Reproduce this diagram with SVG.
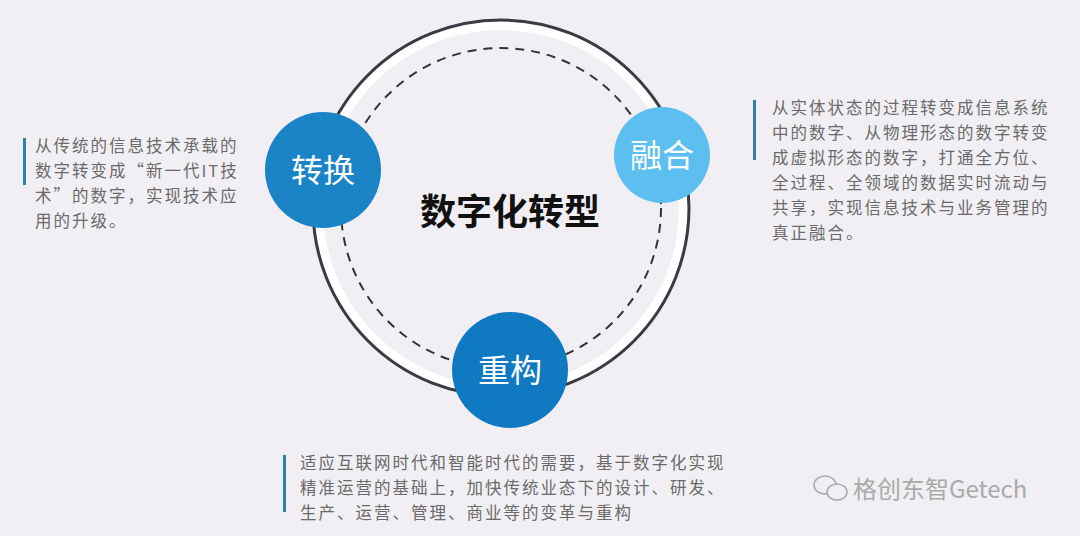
<svg xmlns="http://www.w3.org/2000/svg" width="1080" height="536" viewBox="0 0 1080 536">
<style>
.t{font-family:"Noto Sans CJK SC","Liberation Sans",sans-serif;font-size:16.5px;letter-spacing:2px;fill:#6a6a6a}
.n{font-family:"Noto Sans CJK SC",sans-serif;font-size:32px;fill:#fff;text-anchor:middle}
.bar{fill:#2f7fa9}
</style>
<rect width="1080" height="536" fill="#f1eff3"/>
<g id="connectors">
<circle cx="501" cy="208" r="188" fill="none" stroke="#3a3a44" stroke-width="3"/>
<circle cx="501" cy="208" r="182" fill="none" stroke="#ffffff" stroke-width="8"/>
<circle cx="501" cy="208" r="160" fill="none" stroke="#333" stroke-width="2" stroke-dasharray="9 7"/>
</g>
<g id="title"><text x="510" y="225" font-family="Noto Sans CJK SC,sans-serif" font-size="36" font-weight="bold" text-anchor="middle" fill="#111">数字化转型</text></g>
<g id="node-zhuanhuan"><circle cx="323" cy="170" r="58" fill="#1a84c6"/><text class="n" x="323" y="182">转换</text></g>
<g id="node-ronghe"><circle cx="662" cy="155" r="48" fill="#5cbff0"/><text class="n" x="662" y="167">融合</text></g>
<g id="node-chonggou"><circle cx="510" cy="370" r="58" fill="#0f79c2"/><text class="n" x="510" y="382">重构</text></g>
<g id="text-left"><rect class="bar" x="23" y="138" width="3" height="47"/>
<text class="t" x="35" y="152">从传统的信息技术承载的</text>
<text class="t" x="35" y="177">数字转变成“新一代IT技</text>
<text class="t" x="35" y="202">术”的数字，实现技术应</text>
<text class="t" x="35" y="227">用的升级。</text></g>
<g id="text-right"><rect class="bar" x="753" y="100" width="3" height="60"/>
<text class="t" x="772" y="114">从实体状态的过程转变成信息系统</text>
<text class="t" x="772" y="139">中的数字、从物理形态的数字转变</text>
<text class="t" x="772" y="164">成虚拟形态的数字，打通全方位、</text>
<text class="t" x="772" y="189">全过程、全领域的数据实时流动与</text>
<text class="t" x="772" y="214">共享，实现信息技术与业务管理的</text>
<text class="t" x="772" y="239">真正融合。</text></g>
<g id="text-bottom"><rect class="bar" x="283" y="455" width="3" height="57"/>
<text class="t" x="300" y="469">适应互联网时代和智能时代的需要，基于数字化实现</text>
<text class="t" x="300" y="494">精准运营的基础上，加快传统业态下的设计、研发、</text>
<text class="t" x="300" y="519">生产、运营、管理、商业等的变革与重构</text></g>
<g id="watermark"><text x="853" y="498" font-family="Noto Sans CJK SC,sans-serif" font-size="24" fill="#aaa">格创东智Getech</text>
<ellipse cx="825" cy="485" rx="11" ry="9" fill="none" stroke="#aaa" stroke-width="1.5"/>
<ellipse cx="837" cy="492" rx="10" ry="8" fill="#f1eff3" stroke="#aaa" stroke-width="1.5"/></g>
</svg>
